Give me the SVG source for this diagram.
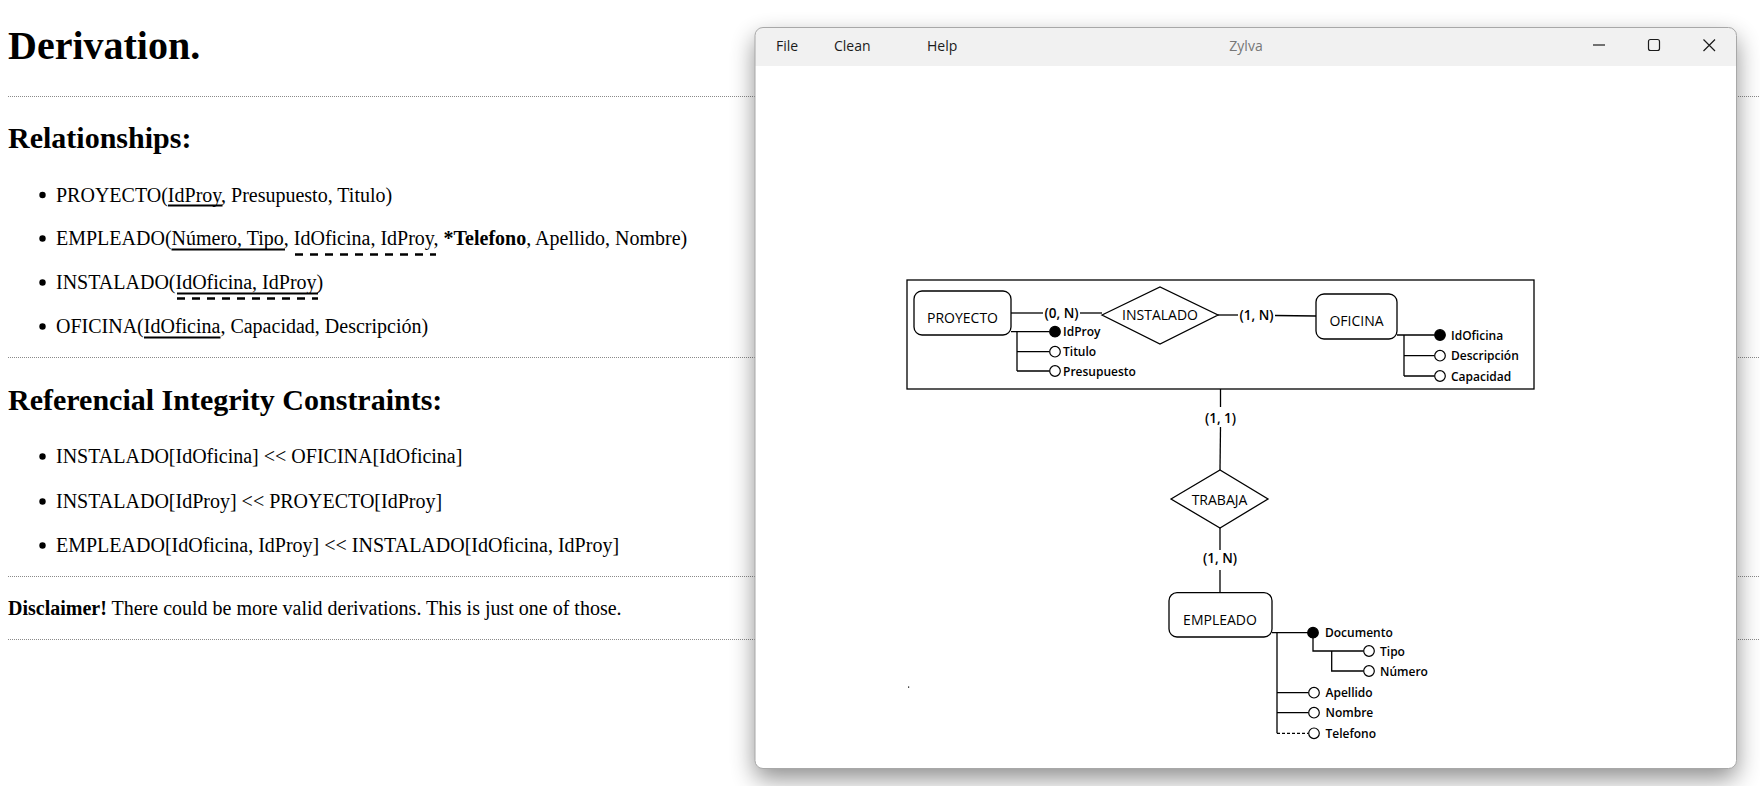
<svg xmlns="http://www.w3.org/2000/svg" width="1760" height="786" viewBox="0 0 1760 786">
<style>
.h1{font-family:"Liberation Serif","Times New Roman",serif;font-size:40px;font-weight:bold;fill:#000}
.h2{font-family:"Liberation Serif","Times New Roman",serif;font-size:30px;font-weight:bold;fill:#000}
.p{font-family:"Liberation Serif","Times New Roman",serif;font-size:20px;fill:#000}
.hr{stroke:#8a8a8a;stroke-width:1;stroke-dasharray:1 1}
.ul{stroke:#000;stroke-width:2}
.dul{stroke:#000;stroke-width:2.5;stroke-dasharray:8 7}
.menu{font-family:"Open Sans","Noto Sans",sans-serif;font-size:14px;fill:#1b1b1b}
.ent{fill:#fff;stroke:#000;stroke-width:1.3}
.etx{font-family:"Open Sans","Noto Sans",sans-serif;font-size:14px;fill:#000;text-anchor:middle}
.card{font-family:"Open Sans","Noto Sans",sans-serif;font-size:13.5px;font-weight:600;fill:#000;text-anchor:middle}
.att{font-family:"Open Sans","Noto Sans",sans-serif;font-size:12px;font-weight:600;fill:#000}
.ln{stroke:#000;stroke-width:1.3;fill:none}
.key{fill:#000;stroke:#000;stroke-width:1.2}
.opt{fill:#fff;stroke:#000;stroke-width:1.2}
</style>
<defs>
<filter id="shadow" x="-10%" y="-10%" width="120%" height="125%">
<feGaussianBlur in="SourceAlpha" stdDeviation="12"/>
<feOffset dy="10" result="b"/>
<feComponentTransfer><feFuncA type="linear" slope="0.45"/></feComponentTransfer>
</filter>
</defs>
<rect width="1760" height="786" fill="#fff"/>

<g id="page">
<text class="h1" x="8" y="59">Derivation.</text>
<line class="hr" x1="8" y1="96.5" x2="1760" y2="96.5"/>
<text class="h2" x="8" y="148">Relationships:</text>

<circle cx="42.5" cy="195" r="3.2" fill="#000"/>
<text class="p" x="56" y="201.5">PROYECTO(IdProy, Presupuesto, Titulo)</text>
<line class="ul" x1="168" y1="205.5" x2="222.5" y2="205.5"/>

<circle cx="42.5" cy="238.5" r="3.2" fill="#000"/>
<text class="p" x="56" y="245">EMPLEADO(Número, Tipo, IdOficina, IdProy, <tspan font-weight="bold">*Telefono</tspan>, Apellido, Nombre)</text>
<line class="ul" x1="171.5" y1="249.5" x2="285" y2="249.5"/>
<line class="dul" x1="295" y1="254.5" x2="436" y2="254.5"/>

<circle cx="42.5" cy="282.5" r="3.2" fill="#000"/>
<text class="p" x="56" y="289">INSTALADO(IdOficina, IdProy)</text>
<line class="ul" x1="177" y1="293.5" x2="318" y2="293.5"/>
<line class="dul" x1="177" y1="298.5" x2="318" y2="298.5"/>

<circle cx="42.5" cy="326.5" r="3.2" fill="#000"/>
<text class="p" x="56" y="333">OFICINA(IdOficina, Capacidad, Descripción)</text>
<line class="ul" x1="144" y1="337.5" x2="220.5" y2="337.5"/>

<line class="hr" x1="8" y1="357.5" x2="1760" y2="357.5"/>
<text class="h2" x="8" y="410">Referencial Integrity Constraints:</text>

<circle cx="42.5" cy="456.5" r="3.2" fill="#000"/>
<text class="p" x="56" y="463">INSTALADO[IdOficina] &lt;&lt; OFICINA[IdOficina]</text>
<circle cx="42.5" cy="501.5" r="3.2" fill="#000"/>
<text class="p" x="56" y="508">INSTALADO[IdProy] &lt;&lt; PROYECTO[IdProy]</text>
<circle cx="42.5" cy="545.5" r="3.2" fill="#000"/>
<text class="p" x="56" y="552">EMPLEADO[IdOficina, IdProy] &lt;&lt; INSTALADO[IdOficina, IdProy]</text>

<line class="hr" x1="8" y1="576.5" x2="1760" y2="576.5"/>
<text class="p" x="8" y="615"><tspan font-weight="bold">Disclaimer!</tspan> There could be more valid derivations. This is just one of those.</text>
<line class="hr" x1="8" y1="639.5" x2="1760" y2="639.5"/>
</g>

<g id="window">
<rect x="755" y="27.5" width="981.5" height="741" rx="8" fill="#000" filter="url(#shadow)"/>
<rect x="755" y="27.5" width="981.5" height="741" rx="8" fill="#fff"/>
<path d="M755 66 V35.5 A8 8 0 0 1 763 27.5 H1728.5 A8 8 0 0 1 1736.5 35.5 V66 Z" fill="#f1f1f1"/>
<rect x="755" y="27.5" width="981.5" height="741" rx="8" fill="none" stroke="#a8a8a8" stroke-width="1"/>
<text class="menu" x="776" y="50.5">File</text>
<text class="menu" x="834" y="50.5">Clean</text>
<text class="menu" x="927" y="50.5">Help</text>
<text class="menu" x="1246" y="50.5" text-anchor="middle" fill="#777" style="fill:#777">Zylva</text>
<line x1="1593" y1="45" x2="1605" y2="45" stroke="#1b1b1b" stroke-width="1.2"/>
<rect x="1648.5" y="39.5" width="11" height="11" rx="2" fill="none" stroke="#1b1b1b" stroke-width="1.2"/>
<path d="M1703.5 39.5 L1715 51 M1715 39.5 L1703.5 51" stroke="#1b1b1b" stroke-width="1.2"/>
<rect x="908" y="686.5" width="1.2" height="1.2" fill="#000"/>
</g>

<g id="connectors">
<rect x="907" y="280" width="627" height="109" fill="none" stroke="#000" stroke-width="1.3"/>
<line class="ln" x1="1011" y1="313" x2="1043" y2="313"/>
<line class="ln" x1="1080" y1="313" x2="1102" y2="313"/>
<line class="ln" x1="1218" y1="315" x2="1238" y2="315"/>
<line class="ln" x1="1275" y1="315.5" x2="1316" y2="316"/>
<line class="ln" x1="1220.5" y1="389" x2="1220.5" y2="407"/>
<line class="ln" x1="1220.5" y1="427" x2="1220" y2="470"/>
<line class="ln" x1="1220" y1="528" x2="1220" y2="550"/>
<line class="ln" x1="1220" y1="570" x2="1220" y2="592.7"/>
</g>
<g id="labels">
<text class="card" x="1061.5" y="318">(0, N)</text>
<text class="card" x="1256.5" y="320">(1, N)</text>
<text class="card" x="1220.5" y="422.5">(1, 1)</text>
<text class="card" x="1220" y="562.5">(1, N)</text>
</g>

<g id="proyecto">
<rect class="ent" x="914" y="291" width="97" height="44" rx="8"/>
<text class="etx" x="962.5" y="323">PROYECTO</text>
<path class="ln" d="M1011 331.7 H1049.5 M1017 331.7 V371 M1017 351.7 H1049.5 M1017 371 H1049.5"/>
<circle class="key" cx="1055" cy="331.7" r="5.3"/>
<circle class="opt" cx="1055" cy="351.7" r="5.3"/>
<circle class="opt" cx="1055" cy="371" r="5.3"/>
<text class="att" x="1063" y="336">IdProy</text>
<text class="att" x="1063" y="356">Titulo</text>
<text class="att" x="1063" y="375.5">Presupuesto</text>
</g>

<g id="instalado">
<polygon class="ent" points="1102,315 1160,287 1218,315 1160,344"/>
<text class="etx" x="1160" y="320">INSTALADO</text>
</g>

<g id="oficina">
<rect class="ent" x="1316" y="294" width="81" height="45" rx="8"/>
<text class="etx" x="1356.5" y="326">OFICINA</text>
<path class="ln" d="M1397 335 H1434.5 M1404 335 V376 M1404 355.7 H1434.5 M1404 376 H1434.5"/>
<circle class="key" cx="1440" cy="335" r="5.3"/>
<circle class="opt" cx="1440" cy="355.7" r="5.3"/>
<circle class="opt" cx="1440" cy="376" r="5.3"/>
<text class="att" x="1451" y="339.5">IdOficina</text>
<text class="att" x="1451" y="360">Descripción</text>
<text class="att" x="1451" y="380.5">Capacidad</text>
</g>

<g id="trabaja">
<polygon class="ent" points="1171,499 1220,470 1268,499 1220,528"/>
<text class="etx" x="1219.5" y="504.5">TRABAJA</text>
</g>

<g id="empleado">
<rect class="ent" x="1169" y="592.7" width="103" height="44.3" rx="8"/>
<text class="etx" x="1220" y="625">EMPLEADO</text>
<path class="ln" d="M1272 632.7 H1308 M1277 632.7 V733.3 M1277 692.7 H1308.5 M1277 712.7 H1308.5"/>
<path class="ln" d="M1313 638 V651 H1363.5 M1331.7 651 V671 H1363.5"/>
<line class="ln" x1="1277" y1="733.3" x2="1308.5" y2="733.3" stroke-dasharray="3 2"/>
<circle class="key" cx="1313" cy="632.7" r="5.3"/>
<circle class="opt" cx="1369" cy="651" r="5.3"/>
<circle class="opt" cx="1369" cy="671" r="5.3"/>
<circle class="opt" cx="1314" cy="692.7" r="5.3"/>
<circle class="opt" cx="1314" cy="712.7" r="5.3"/>
<circle class="opt" cx="1314" cy="733.3" r="5.3"/>
<text class="att" x="1325" y="637">Documento</text>
<text class="att" x="1380" y="655.5">Tipo</text>
<text class="att" x="1380" y="675.5">Número</text>
<text class="att" x="1325.5" y="697">Apellido</text>
<text class="att" x="1325.5" y="717">Nombre</text>
<text class="att" x="1325.5" y="737.5">Telefono</text>
</g>
</svg>
